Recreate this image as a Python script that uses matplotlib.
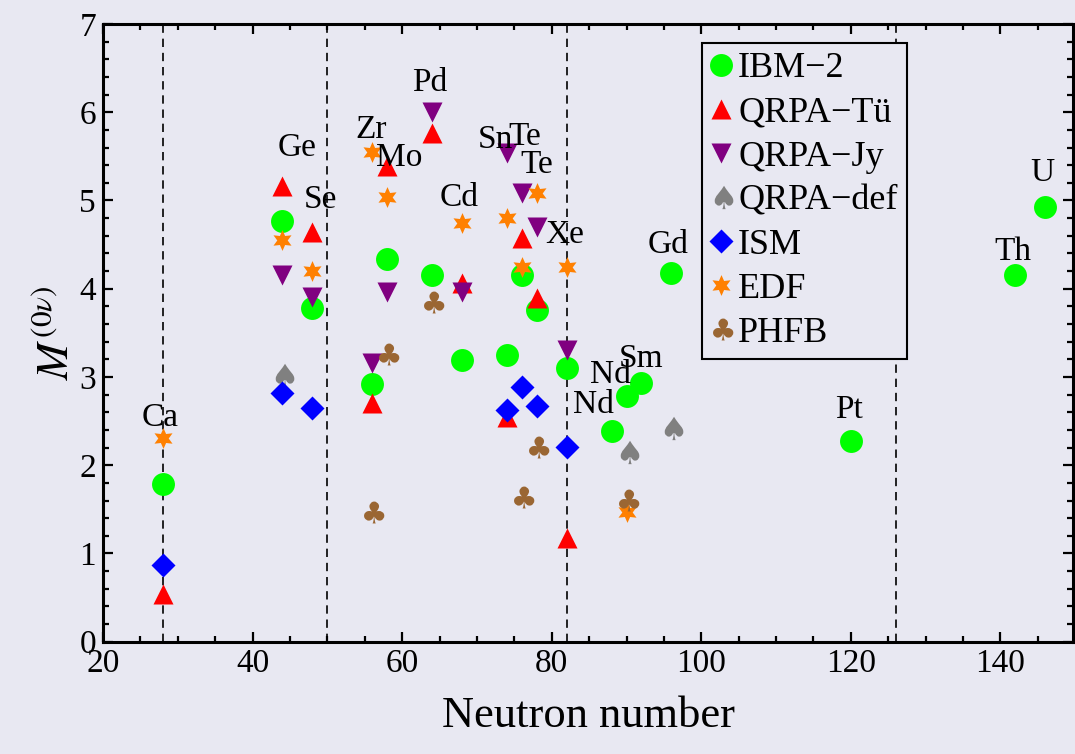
import numpy as np
import matplotlib
matplotlib.use("Agg")
import matplotlib.pyplot as plt
from matplotlib.path import Path
from matplotlib.textpath import TextPath
from matplotlib.font_manager import FontProperties

# ---------------- data ----------------
nuclei = ["Ca", "Ge", "Se", "Zr", "Mo", "Pd", "Cd", "Sn", "Te128", "Te130",
          "Xe", "Nd148", "Nd150", "Sm", "Gd", "Pt", "Th", "U"]
neutrons = [28, 44, 48, 56, 58, 64, 68, 74, 76, 78, 82, 88, 90, 92, 96, 120, 142, 146]

ibm2 = [1.79, 4.77, 3.78, 2.92, 4.34, 4.16, 3.19, 3.25, 4.16, 3.76,
        3.10, 2.39, 2.78, 2.93, 4.18, 2.27, 4.16, 4.93]
qrpa_tu = {"Ca": 0.54, "Ge": 5.16, "Se": 4.64, "Zr": 2.71, "Mo": 5.39, "Pd": 5.76,
           "Cd": 4.06, "Sn": 2.55, "Te128": 4.57, "Te130": 3.89, "Xe": 1.18}
qrpa_jy = {"Ge": 4.16, "Se": 3.91, "Zr": 3.16, "Mo": 3.96, "Pd": 6.00, "Cd": 3.96,
           "Sn": 5.54, "Te128": 5.08, "Te130": 4.70, "Xe": 3.30}
qrpa_def = {"Ge": 3.02, "Nd150": 2.15, "Gd": 2.42}
ism = {"Ca": 0.87, "Ge": 2.82, "Se": 2.65, "Sn": 2.63, "Te128": 2.89,
       "Te130": 2.67, "Xe": 2.21}
edf = {"Ca": 2.31, "Ge": 4.55, "Se": 4.20, "Zr": 5.55, "Mo": 5.04, "Cd": 4.75,
       "Sn": 4.80, "Te128": 4.25, "Te130": 5.09, "Xe": 4.25, "Nd150": 1.47}
phfb = {"Zr": 1.47, "Mo": 3.26, "Pd": 3.85, "Te128": 1.64, "Te130": 2.21, "Nd150": 1.61}

# element labels (text, N, M)
label_text = ["Ca", "Ge", "Se", "Zr", "Mo", "Pd", "Cd", "Sn", "Te", "Te", "Xe",
              "Gd", "Nd", "Sm", "Nd", "Pt", "Th", "U"]
label_x = [27.6, 45.9, 49.1, 55.9, 59.6, 63.7, 67.6, 72.5, 76.4, 78.0, 81.7,
           95.6, 87.9, 91.9, 85.6, 119.7, 141.6, 145.6]
label_y = [2.54, 5.60, 5.01, 5.80, 5.48, 6.33, 5.03, 5.69, 5.72, 5.40, 4.61,
           4.50, 3.02, 3.21, 2.68, 2.63, 4.42, 5.31]

magic_numbers = [28, 50, 82, 126]

# ---------------- style ----------------
bg = "#e8e8f2"
serif = ["Liberation Serif", "DejaVu Serif"]
plt.rcParams["font.family"] = serif
plt.rcParams["mathtext.fontset"] = "stix"


def glyph_marker(ch):
    tp = TextPath((0, 0), ch, size=1, prop=FontProperties(family="DejaVu Sans"))
    v = tp.vertices.copy()
    (x0, y0), (x1, y1) = v.min(axis=0), v.max(axis=0)
    v[:, 0] -= (x0 + x1) / 2
    v[:, 1] -= (y0 + y1) / 2
    return Path(v, tp.codes)


spade = glyph_marker("\u2660")
club = glyph_marker("\u2663")

fig = plt.figure(figsize=(10.75, 7.54), dpi=100, facecolor=bg)
ax = fig.add_axes([103 / 1075, 1 - 641.7 / 754, (1073 - 103) / 1075, (641.7 - 24) / 754])
ax.set_facecolor(bg)

for xm in magic_numbers:
    ax.axvline(xm, color="black", lw=1.2, linestyle=(0, (5, 3.5)), zorder=1)

Nmap = dict(zip(nuclei, neutrons))


def series(d):
    keys = list(d.keys())
    return [Nmap[k] for k in keys], [d[k] for k in keys]


ax.plot(neutrons, ibm2, linestyle="none", marker="o", ms=16.5, color="#00ff00",
        mec="none", label="IBM\u22122", zorder=3)
x, y = series(qrpa_tu)
ax.plot(x, y, linestyle="none", marker="^", ms=15, color="#ff0000", mec="none",
        label="QRPA\u2212T\u00fc", zorder=3)
x, y = series(qrpa_jy)
ax.plot(x, y, linestyle="none", marker="v", ms=15, color="#800080", mec="none",
        label="QRPA\u2212Jy", zorder=3)
x, y = series(qrpa_def)
ax.plot(x, y, linestyle="none", marker=spade, ms=17, color="#808080", mec="none",
        label="QRPA\u2212def", zorder=3)
x, y = series(ism)
ax.plot(x, y, linestyle="none", marker="D", ms=12.5, color="#0000ff", mec="none",
        label="ISM", zorder=3)
x, y = series(edf)
ax.plot(x, y, linestyle="none", marker=(6, 1, 0), ms=15, color="#ff8000", mec="none",
        label="EDF", zorder=3)
x, y = series(phfb)
ax.plot(x, y, linestyle="none", marker=club, ms=17, color="#9a6633", mec="none",
        label="PHFB", zorder=3)

for t, lx, ly in zip(label_text, label_x, label_y):
    ax.text(lx, ly, t, ha="center", va="center", fontsize=24, color="black", zorder=4)

ax.set_xlim(20, 149.7)
ax.set_ylim(0, 7)
ax.set_xticks(np.arange(20, 141, 20))
ax.set_xticks(np.arange(20, 150, 5), minor=True)
ax.set_yticks(np.arange(0, 8, 1))
ax.set_yticks(np.arange(0, 7.01, 0.2), minor=True)
ax.tick_params(which="both", direction="in", top=True, right=True, width=1.6,
               color="black")
ax.tick_params(which="major", length=7, labelsize=24)
ax.tick_params(which="minor", length=4)
ax.tick_params(axis="x", pad=5)
ax.tick_params(axis="y", pad=5)
for s in ax.spines.values():
    s.set_linewidth(2.2)
    s.set_color("black")

ax.set_xlabel("Neutron number", fontsize=32, labelpad=12)
ax.set_ylabel(r"$M^{(0\nu)}$", fontsize=32, labelpad=2)

leg = ax.legend(loc="upper left", bbox_to_anchor=(0.6175, 0.969), borderaxespad=0,
                fontsize=26, handlelength=0.55, handletextpad=0.2, borderpad=0.25,
                labelspacing=0.3, numpoints=1, fancybox=False, framealpha=1,
                facecolor=bg, edgecolor="black")
leg.get_frame().set_linewidth(1.5)
leg.set_zorder(5)

fig.savefig("out.png", dpi=100, facecolor=bg)
